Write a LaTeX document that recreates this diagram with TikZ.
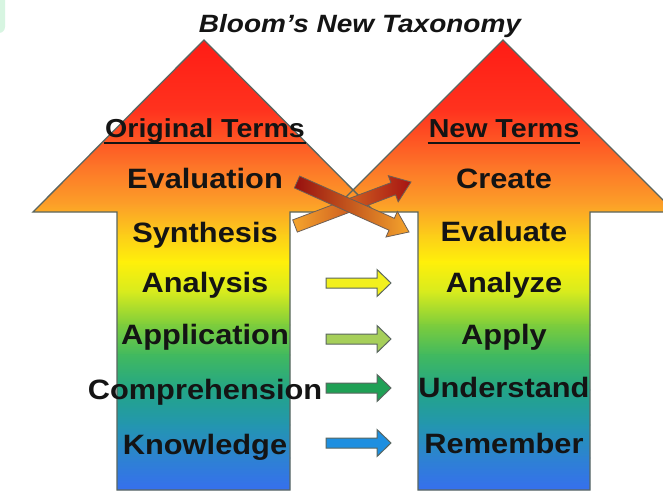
\documentclass[tikz,border=0pt]{standalone}
\usepackage{fontspec}
\setmainfont{Liberation Sans}
\usetikzlibrary{calc}
\definecolor{g030}{RGB}{255,25,20}
\definecolor{g110}{RGB}{255,50,30}
\definecolor{g165}{RGB}{253,115,40}
\definecolor{g205}{RGB}{252,160,40}
\definecolor{g235}{RGB}{252,205,25}
\definecolor{g262}{RGB}{255,240,10}
\definecolor{g292}{RGB}{215,235,30}
\definecolor{g325}{RGB}{125,205,60}
\definecolor{g355}{RGB}{65,185,95}
\definecolor{g390}{RGB}{35,165,135}
\definecolor{g425}{RGB}{35,150,175}
\definecolor{g458}{RGB}{45,130,210}
\definecolor{g492}{RGB}{55,110,240}
\definecolor{txt}{RGB}{20,20,20}
\definecolor{edge}{RGB}{90,102,96}
\definecolor{mint}{RGB}{215,245,225}
\definecolor{ylw}{RGB}{242,240,30}
\definecolor{lgrn}{RGB}{166,207,90}
\definecolor{grn}{RGB}{31,160,85}
\definecolor{blu}{RGB}{30,143,224}
\definecolor{dred}{RGB}{150,15,15}
\definecolor{mred}{RGB}{228,35,30}
\definecolor{orng}{RGB}{245,165,45}
\definecolor{crossedge}{RGB}{110,95,85}
\newcommand\stx[1]{\scalebox{1.1}[1]{#1}}
\newcommand\blockarrow[6]{%
  \coordinate (bq) at ($(#3)!#6!(#2)$);
  \path[#1] ($(#2)!#4!90:(#3)$) -- ($(bq)!#4!90:(#3)$) -- ($(bq)!#5!90:(#3)$)
    -- (#3) -- ($(bq)!#5!-90:(#3)$) -- ($(bq)!#4!-90:(#3)$) -- ($(#2)!#4!-90:(#3)$) -- cycle;
}
\begin{document}
\begin{tikzpicture}[x=1pt,y=-1pt,
  term/.style={anchor=base, inner sep=0pt, text=txt, font=\bfseries\fontsize{28}{30}\selectfont},
  headterm/.style={term, font=\bfseries\fontsize{26}{28}\selectfont},
  bigedge/.style={draw=edge, line width=1.3pt, line join=miter},
  smallarrow/.style={draw=edge, line width=1pt, fill=#1},
  crossarrow/.style={draw=crossedge, line width=0.8pt},
  uline/.style={line width=2pt, draw=txt}
]
\useasboundingbox (0,0) rectangle (663,492);
\clip (0,0) rectangle (663,492);
\fill[white] (0,0) rectangle (663,492);
\fill[mint, rounded corners=6pt] (-10,-10) rectangle (5,33);

% rainbow fill of both big arrows
\begin{scope}
  \clip (204,40) -- (375,212) -- (290,212) -- (290,490) -- (117,490) -- (117,212) -- (33,212) -- cycle
        (503,40) -- (675,212) -- (590,212) -- (590,490) -- (418,490) -- (418,212) -- (331,212) -- cycle;
  \foreach \ya/\ca/\yb/\cb in {30/g030/110/g110, 110/g110/165/g165, 165/g165/205/g205,
      205/g205/235/g235, 235/g235/262/g262, 262/g262/292/g292, 292/g292/325/g325,
      325/g325/355/g355, 355/g355/390/g390, 390/g390/425/g425, 425/g425/458/g458,
      458/g458/492/g492}
    \shade[top color=\ca, bottom color=\cb] (0,\ya-0.5) rectangle (663,\yb+0.5);
\end{scope}
\draw[bigedge] (204,40) -- (375,212) -- (290,212) -- (290,490) -- (117,490) -- (117,212) -- (33,212) -- cycle;
\draw[bigedge] (503,40) -- (675,212) -- (590,212) -- (590,490) -- (418,490) -- (418,212) -- (331,212) -- cycle;

% title
\node[anchor=base, inner sep=0pt, text=txt, font=\bfseries\itshape\fontsize{25}{28}\selectfont] (title) at (360,33) {\scalebox{1.12}[1]{Bloom’s New Taxonomy}};

% crossed arrows
\coordinate (sys) at (295,226);
\coordinate (sye) at (411,182);
\coordinate (evs) at (297,182);
\coordinate (eve) at (409,232);
\blockarrow{crossarrow, left color=orng, middle color=mred!70!orng, right color=dred!80!mred}{sys}{sye}{6.5pt}{14pt}{19pt}
\blockarrow{crossarrow, left color=dred, middle color=mred, right color=orng}{evs}{eve}{6.5pt}{14pt}{19pt}

% straight arrows
\coordinate (a1s) at (326,283); \coordinate (a1e) at (391,283);
\coordinate (a2s) at (326,339); \coordinate (a2e) at (391,339);
\coordinate (a3s) at (326,388); \coordinate (a3e) at (391,388);
\coordinate (a4s) at (326,443); \coordinate (a4e) at (391,443);
\blockarrow{smallarrow=ylw}{a1s}{a1e}{5pt}{13.5pt}{14pt}
\blockarrow{smallarrow=lgrn}{a2s}{a2e}{5pt}{13.5pt}{14pt}
\blockarrow{smallarrow=grn}{a3s}{a3e}{5pt}{13.5pt}{14pt}
\blockarrow{smallarrow=blu}{a4s}{a4e}{5pt}{13.5pt}{14pt}

% headers
\node[headterm] (orig) at (205,137) {\stx{Original Terms}};
\node[headterm] (newt) at (504,137) {\stx{New Terms}};
\draw[uline] ($(orig.base west)+(-1,6)$) -- ($(orig.base east)+(1,6)$);
\draw[uline] ($(newt.base west)+(-1,6)$) -- ($(newt.base east)+(1,6)$);

% original terms
\node[term] (eva) at (205,188) {\stx{Evaluation}};
\node[term] (syn) at (205,242) {\stx{Synthesis}};
\node[term] (ana) at (205,292) {\stx{Analysis}};
\node[term] (app) at (205,344) {\stx{Application}};
\node[term] (com) at (205,399) {\stx{Comprehension}};
\node[term] (kno) at (205,454) {\stx{Knowledge}};

% new terms
\node[term] (cre) at (504,188) {\stx{Create}};
\node[term] (evl) at (504,241) {\stx{Evaluate}};
\node[term] (anz) at (504,292) {\stx{Analyze}};
\node[term] (apl) at (504,344) {\stx{Apply}};
\node[term] (und) at (504,397) {\stx{Understand}};
\node[term] (rem) at (504,453) {\stx{Remember}};
\end{tikzpicture}
\end{document}
